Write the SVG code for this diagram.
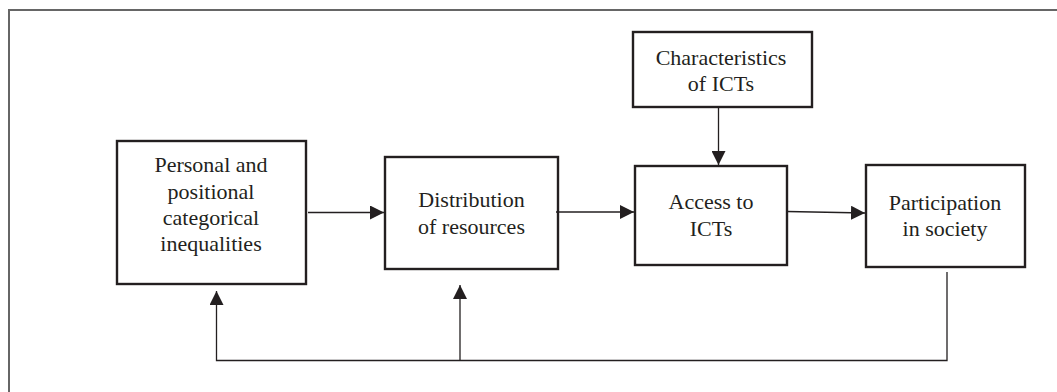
<svg xmlns="http://www.w3.org/2000/svg" width="1057" height="392" viewBox="0 0 1057 392">
<style>
.box{fill:#fff;stroke:#231f20;stroke-width:2.4}
.lbl{font-family:"Liberation Serif","Times New Roman",serif;font-size:22px;fill:#231f20;text-anchor:middle}
.con{fill:none;stroke:#231f20;stroke-width:1.3}
.frame{fill:none;stroke:#666;stroke-width:2}
</style>
<defs>
<marker id="ah" viewBox="0 0 14 14" refX="14" refY="7" markerWidth="14" markerHeight="14" markerUnits="userSpaceOnUse" orient="auto">
<path d="M0,0 L14,7 L0,14 Z" fill="#231f20"/>
</marker>
</defs>
<rect width="1057" height="392" fill="#fff"/>
<path class="frame" d="M9,392 V10 H1057"/>
<g id="n-personal">
<rect class="box" x="117" y="141" width="189" height="143"/>
<text class="lbl" x="211" y="172">Personal and</text>
<text class="lbl" x="211" y="199">positional</text>
<text class="lbl" x="211" y="225">categorical</text>
<text class="lbl" x="211" y="251">inequalities</text>
</g>
<g id="n-distribution">
<rect class="box" x="385" y="157" width="173" height="112"/>
<text class="lbl" x="471.5" y="207">Distribution</text>
<text class="lbl" x="471.5" y="234">of resources</text>
</g>
<g id="n-characteristics">
<rect class="box" x="633" y="32" width="179" height="75"/>
<text class="lbl" x="721" y="65">Characteristics</text>
<text class="lbl" x="721" y="91">of ICTs</text>
</g>
<g id="n-access">
<rect class="box" x="635" y="166" width="152" height="99"/>
<text class="lbl" x="711" y="209">Access to</text>
<text class="lbl" x="711" y="236">ICTs</text>
</g>
<g id="n-participation">
<rect class="box" x="866" y="165" width="159" height="102"/>
<text class="lbl" x="945" y="210">Participation</text>
<text class="lbl" x="945" y="236">in society</text>
</g>
<g id="connectors">
<path class="con" d="M308,212.5 H384" marker-end="url(#ah)"/>
<path class="con" d="M556,212 H634" marker-end="url(#ah)"/>
<path class="con" d="M787,211.5 L865,213" marker-end="url(#ah)"/>
<path class="con" d="M718.5,107 V165" marker-end="url(#ah)"/>
<path class="con" d="M947,272 V360.5 H216.5 V291" marker-end="url(#ah)"/>
<path class="con" d="M460,360.5 V285" marker-end="url(#ah)"/>
</g>
</svg>
